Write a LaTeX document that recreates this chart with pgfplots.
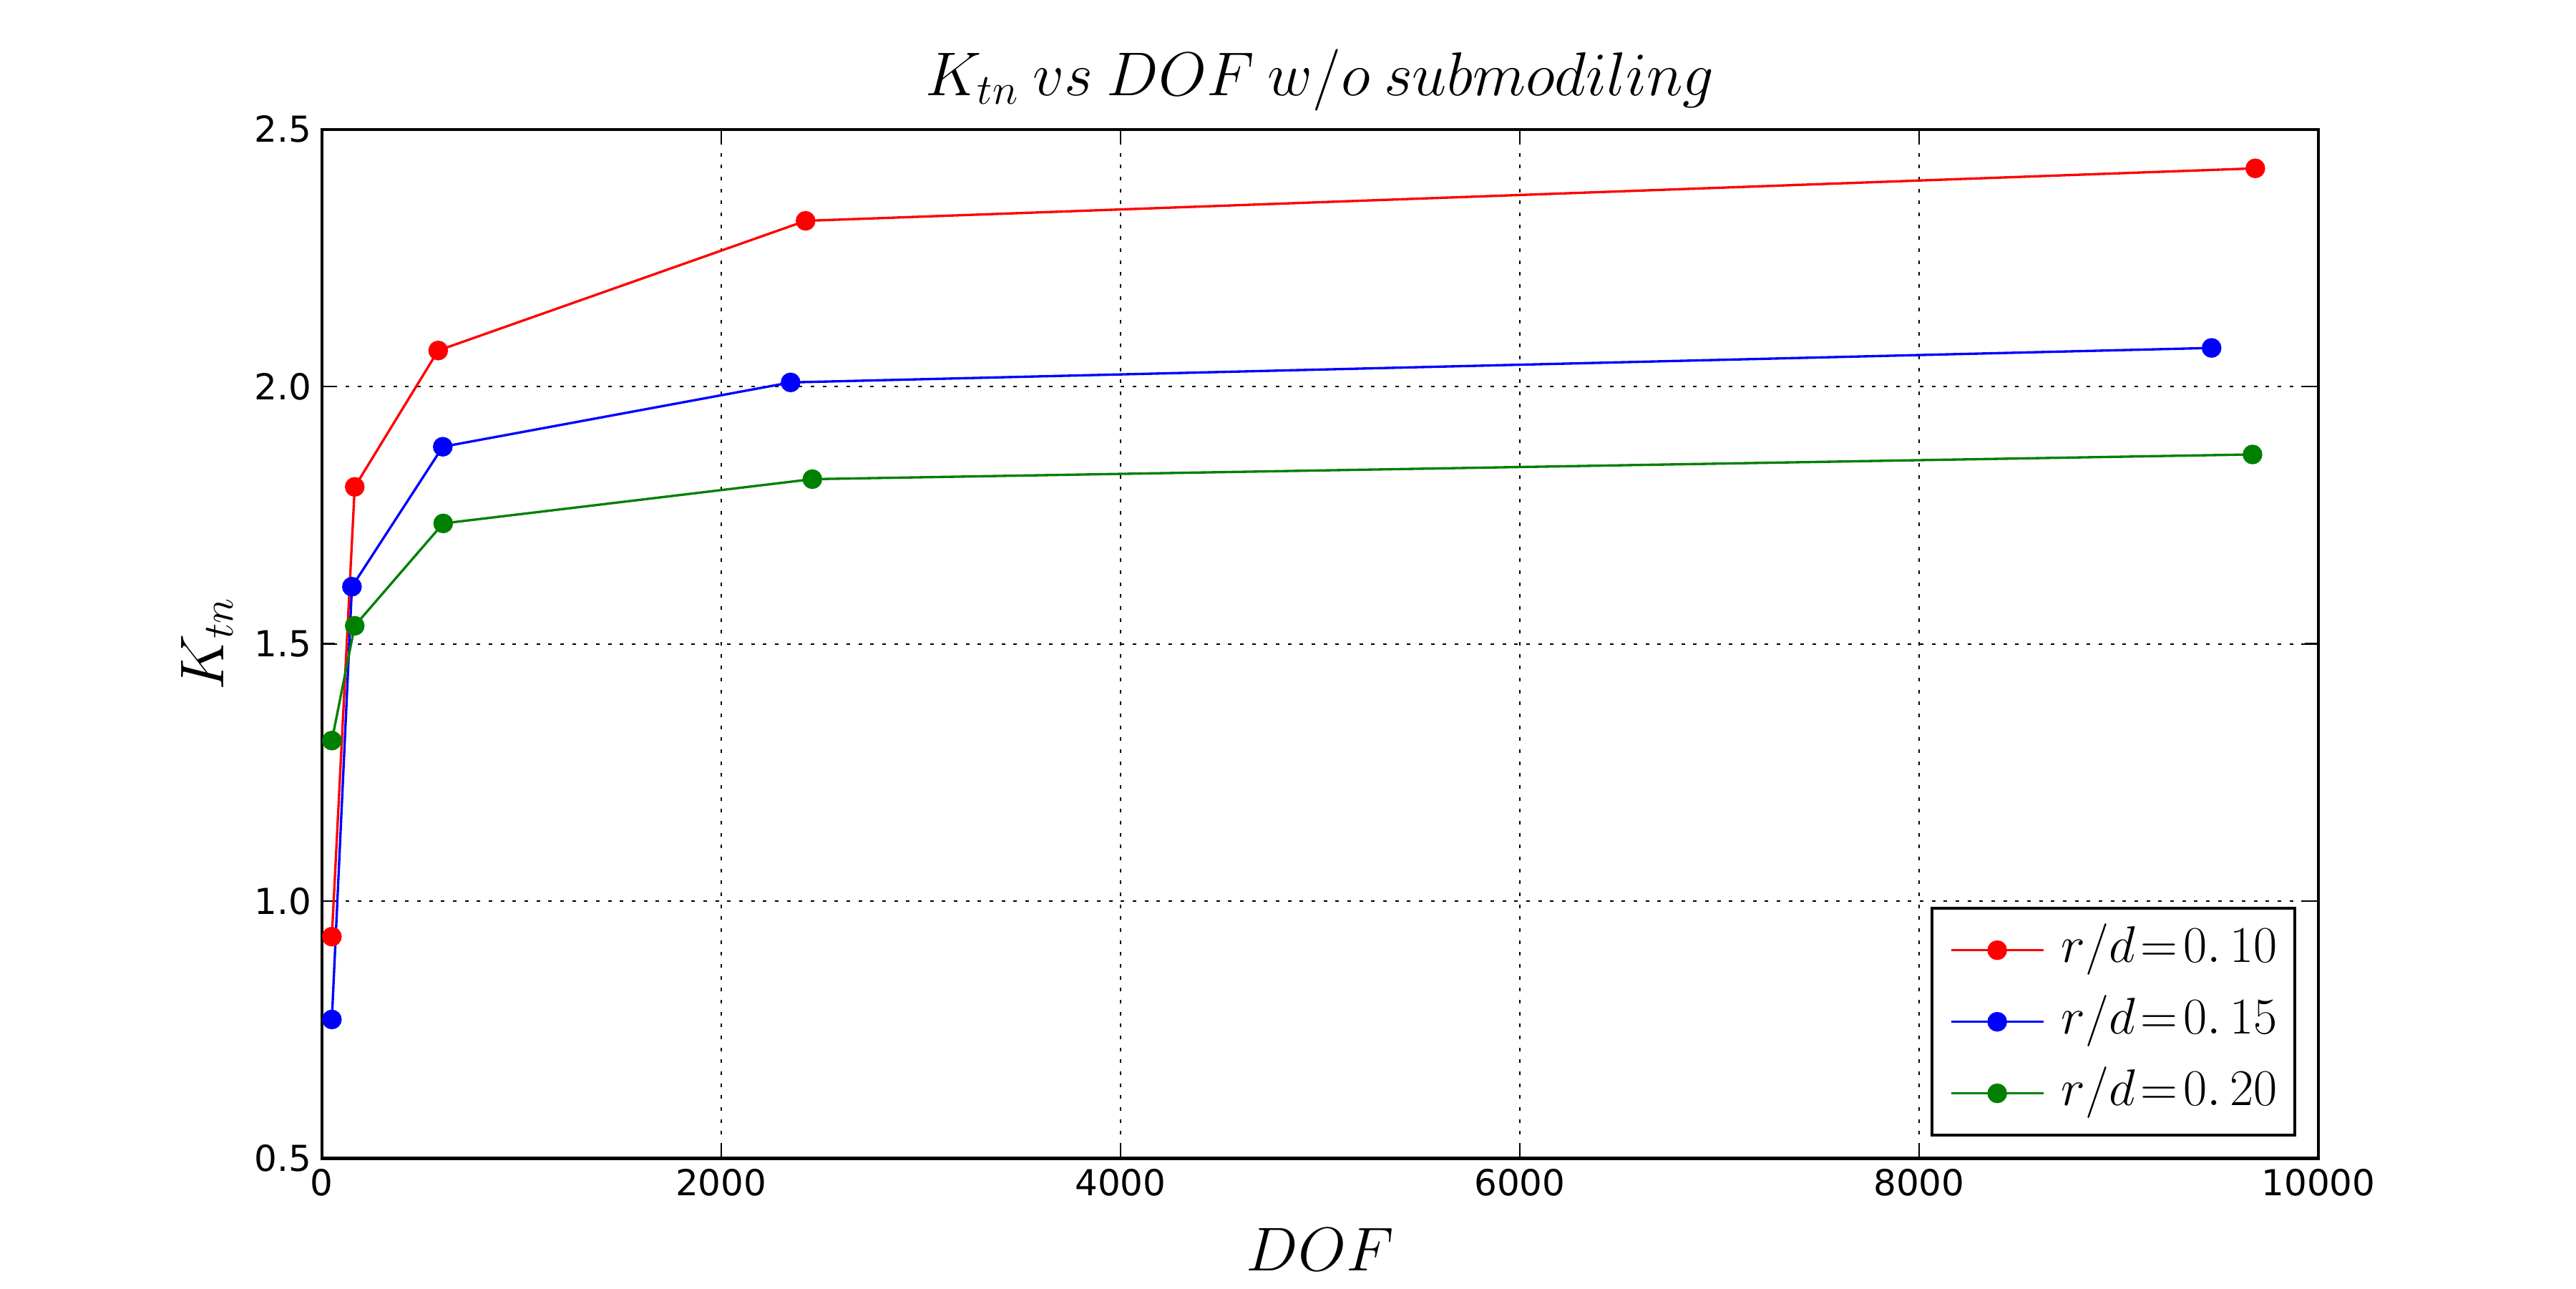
\documentclass[border=0pt]{standalone}
\usepackage{fontspec}
\setmainfont{DejaVu Sans}
\usepackage{pgfplots}
\pgfplotsset{compat=1.18}
\definecolor{mplgreen}{rgb}{0,0.5,0}
\pgfplotstableread{
x y
50.5 0.931
165 1.805
583 2.070
2423 2.322
9684 2.424
}\red
\pgfplotstableread{
x y
50.5 0.770
151 1.611
606 1.883
2348 2.008
9465 2.075
}\blue
\pgfplotstableread{
x y
50.5 1.312
165 1.535
608 1.734
2457 1.820
9670 1.868
}\green
\begin{document}
\begin{tikzpicture}
\useasboundingbox (-107.93pt,-43.56pt) rectangle (756.07pt,388.44pt);
\begin{axis}[
  at={(0,0)}, anchor=south west,
  scale only axis,
  width=669.67pt, height=345.1pt,
  xmin=0, xmax=10000, ymin=0.5, ymax=2.5,
  xtick={0,2000,4000,6000,8000,10000},
  ytick={0.5,1.0,1.5,2.0,2.5},
  scaled x ticks=false,
  xticklabel style={/pgf/number format/1000 sep={}},
  yticklabel style={/pgf/number format/.cd, fixed, fixed zerofill, precision=1},
  /pgf/number format/assume math mode=true,
  ticklabel style={font=\fontsize{12}{14}\selectfont},
  tick align=inside,
  major tick length=4.5pt,
  tick style={black, line width=0.6pt},
  axis line style={line width=1pt},
  grid=major,
  major grid style={black, line width=0.5pt, dash pattern=on 1.2pt off 2.8pt},
  title={$K_{tn}\mkern4mu vs\mkern4mu DOF\mkern4mu w/o\mkern4mu submodiling$},
  title style={at={(axis description cs:0.5,1.0157)}, anchor=base, font=\fontsize{20}{24}\selectfont},
  xlabel={$DOF$},
  xlabel style={at={(axis description cs:0.5,-0.1095)}, anchor=base, font=\fontsize{20}{24}\selectfont},
  ylabel={$K_{tn}$},
  ylabel style={at={(axis description cs:-0.049,0.5)}, anchor=base, rotate=0, font=\fontsize{20}{24}\selectfont},
  legend style={at={(axis description cs:0.98899,0.0212)}, anchor=south east,
    draw=black, line width=1pt, inner sep=6pt,
    font=\fontsize{16}{19}\selectfont,
    row sep=8pt,
    nodes={inner sep=0pt, text height=12pt, text depth=4pt, anchor=west}},
  legend cell align=left,
  legend image code/.code={
    \draw[#1, line width=0.8pt] (0pt,0pt) -- (31pt,0pt);
    \fill[#1] (15.5pt,0pt) circle (2.9pt);
  },
  every axis plot/.append style={line width=0.8pt, mark=*, mark size=2.9pt},
]
\addplot[red, mark options={fill=red, draw=red}] table[x=x,y=y] {\red};
\addlegendentry{\hspace{5.5pt}$r/d\!=\!0.\,10$}
\addplot[blue, mark options={fill=blue, draw=blue}] table[x=x,y=y] {\blue};
\addlegendentry{\hspace{5.5pt}$r/d\!=\!0.\,15$}
\addplot[mplgreen, mark options={fill=mplgreen, draw=mplgreen}] table[x=x,y=y] {\green};
\addlegendentry{\hspace{5.5pt}$r/d\!=\!0.\,20$}
\end{axis}
\end{tikzpicture}
\end{document}
